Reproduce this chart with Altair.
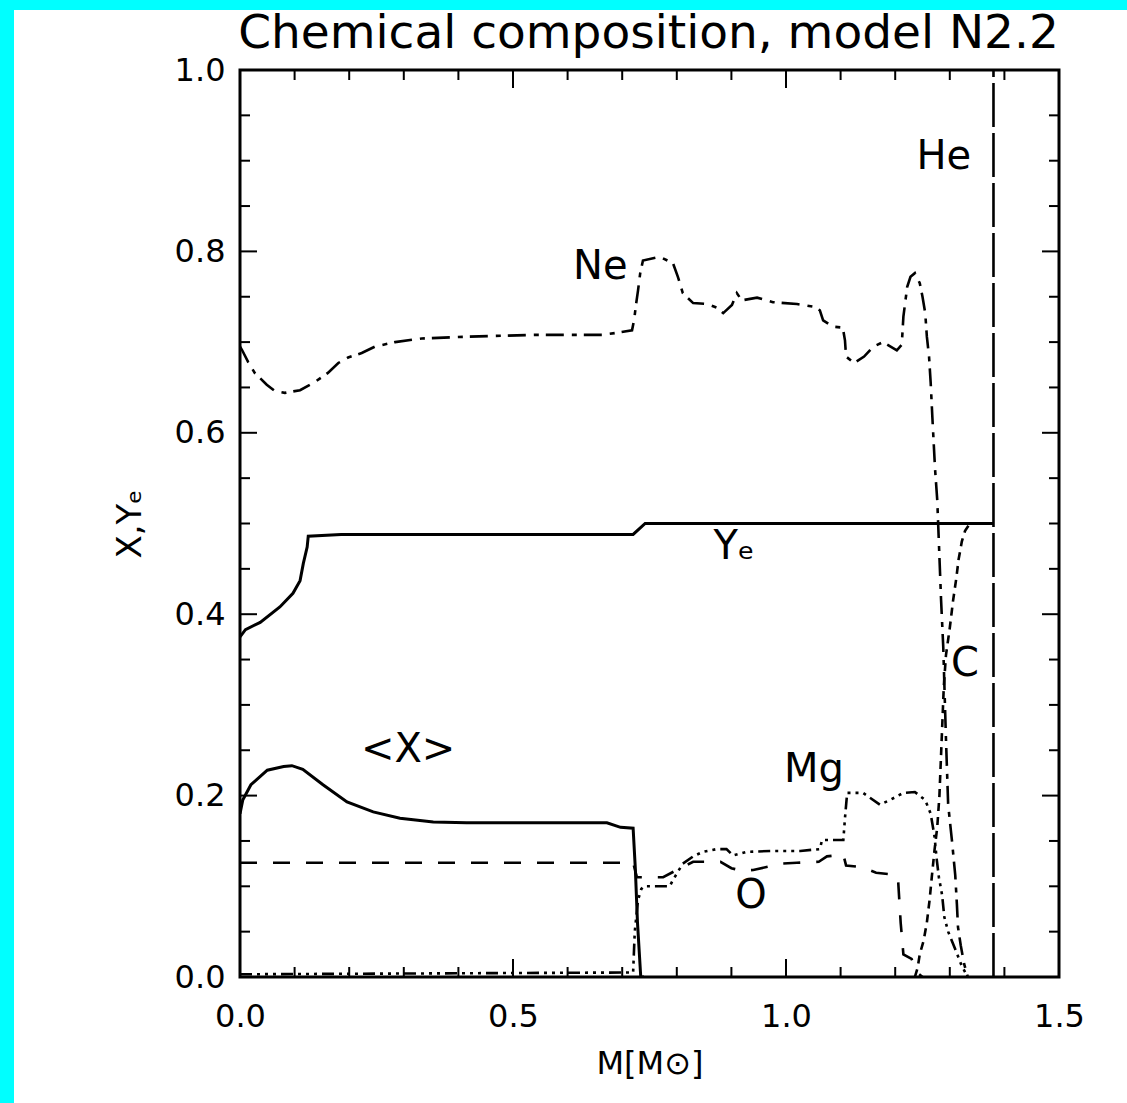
import altair as alt
import pandas as pd

# Mass coordinate M [M_sun] and abundances / electron fraction, model N2.2
ye_m = [0.0, 0.01, 0.037, 0.073, 0.097, 0.110, 0.116, 0.123, 0.125, 0.185, 0.72, 0.742, 1.38]
ye_v = [0.375, 0.383, 0.391, 0.408, 0.423, 0.437, 0.456, 0.474, 0.486, 0.488, 0.488, 0.5, 0.5]

xbar_m = [0.0, 0.005, 0.02, 0.05, 0.08, 0.095, 0.115, 0.152, 0.196, 0.244, 0.293, 0.354,
          0.415, 0.60, 0.672, 0.697, 0.72, 0.724, 0.728, 0.734, 0.74]
xbar_v = [0.18, 0.195, 0.212, 0.228, 0.232, 0.233, 0.229, 0.212, 0.193, 0.182, 0.175, 0.171,
          0.170, 0.170, 0.170, 0.165, 0.164, 0.12, 0.06, 0.0, 0.0]

o_m = [0.0, 0.72, 0.727, 0.733, 0.775, 0.80, 0.83, 0.88, 0.90, 0.92, 0.94, 0.97, 0.99, 1.02,
       1.06, 1.075, 1.105, 1.11, 1.14, 1.165, 1.196, 1.205, 1.21, 1.215, 1.23, 1.24, 1.25]
o_v = [0.126, 0.126, 0.11, 0.11, 0.11, 0.118, 0.127, 0.127, 0.12, 0.117, 0.118, 0.122, 0.125, 0.126,
       0.127, 0.133, 0.135, 0.123, 0.121, 0.115, 0.113, 0.11, 0.06, 0.025, 0.02, 0.005, 0.0]

mg_m = [0.0, 0.72, 0.723, 0.729, 0.735, 0.74, 0.787, 0.793, 0.802, 0.811, 0.83, 0.848, 0.873,
        0.891, 0.903, 0.928, 0.976, 1.026, 1.062, 1.066, 1.105, 1.108, 1.112, 1.141, 1.172,
        1.19, 1.215, 1.236, 1.255, 1.265, 1.272, 1.276, 1.28, 1.286, 1.29, 1.297, 1.305,
        1.313, 1.322, 1.333]
mg_v = [0.003, 0.005, 0.05, 0.085, 0.097, 0.10, 0.10, 0.107, 0.116, 0.125, 0.133, 0.138, 0.141,
        0.141, 0.134, 0.138, 0.139, 0.139, 0.141, 0.151, 0.151, 0.175, 0.203, 0.203, 0.19,
        0.195, 0.203, 0.204, 0.195, 0.18, 0.155, 0.13, 0.11, 0.09, 0.066, 0.05, 0.038,
        0.026, 0.012, 0.0]

ne_m = [0.0, 0.004, 0.015, 0.027, 0.049, 0.064, 0.082, 0.11, 0.137, 0.161, 0.18, 0.198, 0.223,
        0.247, 0.284, 0.333, 0.418, 0.54, 0.663, 0.687, 0.718, 0.722, 0.725, 0.729, 0.733,
        0.738, 0.769, 0.793, 0.802, 0.811, 0.83, 0.855, 0.873, 0.885, 0.901, 0.91, 0.919,
        0.947, 0.976, 1.02, 1.05, 1.062, 1.068, 1.086, 1.104, 1.108, 1.11, 1.125, 1.143,
        1.16, 1.178, 1.203, 1.212, 1.215, 1.222, 1.228, 1.236, 1.245, 1.25, 1.255, 1.258,
        1.262, 1.265, 1.268, 1.273, 1.277, 1.284, 1.288, 1.293, 1.297, 1.304, 1.31, 1.313,
        1.315, 1.32, 1.326, 1.333]
ne_v = [0.695, 0.691, 0.678, 0.666, 0.653, 0.646, 0.644, 0.647, 0.656, 0.666, 0.677, 0.683, 0.688,
        0.695, 0.700, 0.704, 0.706, 0.708, 0.708, 0.710, 0.713, 0.725, 0.74, 0.757, 0.776,
        0.79, 0.794, 0.787, 0.772, 0.754, 0.743, 0.742, 0.738, 0.732, 0.741, 0.754, 0.746,
        0.749, 0.744, 0.742, 0.739, 0.735, 0.724, 0.717, 0.716, 0.702, 0.684, 0.677, 0.684,
        0.695, 0.70, 0.691, 0.697, 0.728, 0.761, 0.772, 0.776, 0.765, 0.75, 0.732, 0.706,
        0.684, 0.655, 0.618, 0.56, 0.526, 0.416, 0.364, 0.262, 0.19, 0.15, 0.112, 0.08,
        0.055, 0.035, 0.015, 0.0]

c_m = [1.236, 1.241, 1.245, 1.252, 1.258, 1.263, 1.267, 1.272, 1.277, 1.281, 1.285, 1.289,
       1.293, 1.30, 1.306, 1.312, 1.316, 1.322, 1.328, 1.337, 1.345]
c_v = [0.0, 0.01, 0.025, 0.04, 0.06, 0.085, 0.11, 0.14, 0.165, 0.2, 0.26, 0.32,
       0.355, 0.385, 0.415, 0.44, 0.46, 0.48, 0.492, 0.5, 0.5]

he_m = [1.38, 1.38]
he_v = [0.0, 1.0]

label_text = ["Ne", "He", "Yₑ", "C", "<X>", "Mg", "O"]
label_m = [0.66, 1.289, 0.905, 1.328, 0.308, 1.051, 0.936]
label_v = [0.783, 0.904, 0.474, 0.345, 0.25, 0.228, 0.089]

chart_title = "Chemical composition, model N2.2"

x_tick_values = [round(0.1 * k, 1) for k in range(16)]
x_major = [0.0, 0.5, 1.0, 1.5]
y_tick_values = [round(0.05 * k, 2) for k in range(21)]
y_major = [0.0, 0.2, 0.4, 0.6, 0.8, 1.0]

W, H = 819, 907
FONT = "DejaVu Sans"
CYAN = "#00ffff"

x_scale = alt.Scale(domain=[0, 1.5], nice=False, zero=False)
y_scale = alt.Scale(domain=[0, 1], nice=False, zero=False)

x_axis = alt.Axis(values=x_major, format=".1f", title="M[M⊙]", grid=False, domain=False,
                  ticks=False, tickSize=0, labelFlush=False, labelOverlap=False,
                  labelFont=FONT, labelFontSize=32, labelColor="black", labelPadding=24,
                  titleFont=FONT, titleFontSize=32, titleFontWeight="normal",
                  titleColor="black", titlePadding=16)
y_axis = alt.Axis(values=y_major, format=".1f", title="X,Yₑ", grid=False, domain=False,
                  ticks=False, tickSize=0, labelFlush=False, labelOverlap=False,
                  labelFont=FONT, labelFontSize=32, labelColor="black", labelPadding=15,
                  titleFont=FONT, titleFontSize=34, titleFontWeight="normal",
                  titleColor="black", titlePadding=27)

X = alt.X("m:Q", scale=x_scale, axis=x_axis)
Y = alt.Y("v:Q", scale=y_scale, axis=y_axis)


def table(m, v):
    return pd.DataFrame({"m": m, "v": v, "i": list(range(len(m)))})


def curve(m, v, dash=None, width=2.6):
    style = dict(color="black", strokeWidth=width, clip=True)
    if dash is not None:
        style["strokeDash"] = dash
    return alt.Chart(table(m, v)).mark_line(**style).encode(x=X, y=Y, order="i:Q")


def x_ticks(vals, length, top):
    y0, y1 = (0, length) if top else (H, H - length)
    return alt.Chart(pd.DataFrame({"m": vals})).mark_rule(color="black", strokeWidth=2).encode(
        x=X, y=alt.value(y0), y2=alt.value(y1))


def y_ticks(vals, length, right):
    x0, x1 = (W, W - length) if right else (0, length)
    return alt.Chart(pd.DataFrame({"v": vals})).mark_rule(color="black", strokeWidth=2).encode(
        y=Y, x=alt.value(x0), x2=alt.value(x1))


one = pd.DataFrame({"k": [0]})
# cyan page border along the left and top edges
border_left = alt.Chart(one).mark_rect(color=CYAN).encode(
    x=alt.value(-240), x2=alt.value(-226), y=alt.value(-70), y2=alt.value(H + 126))
border_top = alt.Chart(one).mark_rect(color=CYAN).encode(
    x=alt.value(-240), x2=alt.value(W + 68), y=alt.value(-70), y2=alt.value(-60))

# heading drawn as a text mark above the frame
heading = alt.Chart(pd.DataFrame({"t": [chart_title]})).mark_text(
    font=FONT, fontSize=47, color="black", align="center", baseline="alphabetic").encode(
    x=alt.value(W / 2 - 1), y=alt.value(-22), text="t:N")

x_minor = [t for t in x_tick_values if t not in x_major]
y_minor = [t for t in y_tick_values if t not in y_major]

ticks = [
    x_ticks(x_major, 18, False), x_ticks(x_minor, 10, False),
    x_ticks(x_major, 18, True), x_ticks(x_minor, 10, True),
    y_ticks(y_major, 17, False), y_ticks(y_minor, 10, False),
    y_ticks(y_major, 17, True), y_ticks(y_minor, 10, True),
]

curves = [
    curve(ye_m, ye_v, width=3),
    curve(xbar_m, xbar_v, width=3),
    curve(o_m, o_v, dash=[17, 16]),
    curve(mg_m, mg_v, dash=[12, 5, 3, 5, 3, 5, 3, 5]),
    curve(ne_m, ne_v, dash=[18, 8, 5, 7]),
    curve(c_m, c_v, dash=[8, 6]),
    curve(he_m, he_v, dash=[44, 6]),
]

labels = alt.Chart(pd.DataFrame({"m": label_m, "v": label_v, "t": label_text})).mark_text(
    font=FONT, fontSize=40, color="black", align="center", baseline="middle").encode(
    x=X, y=Y, text="t:N")

chart = alt.layer(border_left, border_top, heading, *ticks, *curves, labels).properties(
    width=W, height=H, padding=0, background="white",
).configure_view(stroke="black", strokeWidth=3)

chart.save("out.html", embed_options={"renderer": "svg", "actions": False})
